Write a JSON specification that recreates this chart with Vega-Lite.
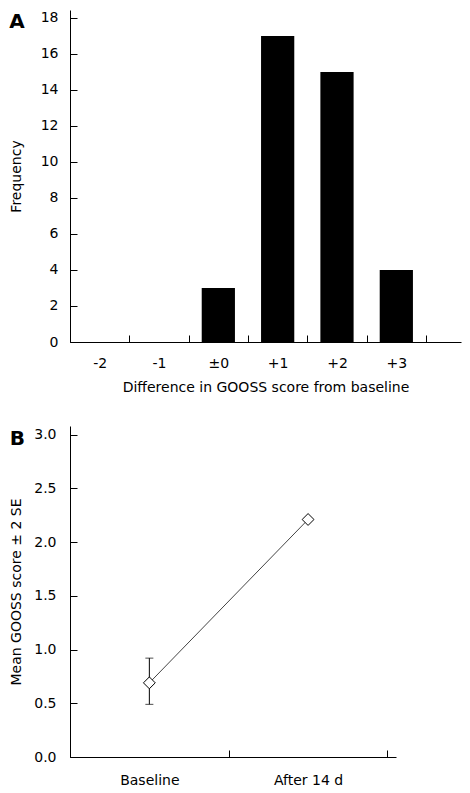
{
  "$schema": "https://vega.github.io/schema/vega-lite/v6.json",
  "padding": {"left": 9, "top": 10, "right": 5, "bottom": 5},
  "background": "white",
  "config": {
    "view": {"stroke": null},
    "axis": {
      "domainColor": "black", "tickColor": "black", "labelColor": "black", "titleColor": "black",
      "labelFont": "DejaVu Sans", "titleFont": "DejaVu Sans", "labelFontSize": 14, "titleFontSize": 14,
      "titleFontWeight": "normal", "grid": false, "tickSize": -7, "domainWidth": 1, "tickWidth": 1
    },
    "title": {"font": "DejaVu Sans", "fontSize": 20, "fontWeight": "bold", "color": "black", "anchor": "start", "frame": "bounds", "offset": 0}
  },
  "bounds": "flush",
  "spacing": 84,
  "vconcat": [
    {
      "title": {"text": "A", "dy": 26},
      "width": 391,
      "height": 332,
      "data": {"values": [
        {"diff": "-2", "freq": 0},
        {"diff": "-1", "freq": 0},
        {"diff": "±0", "freq": 3},
        {"diff": "+1", "freq": 17},
        {"diff": "+2", "freq": 15},
        {"diff": "+3", "freq": 4}
      ]},
      "mark": {"type": "bar", "color": "black", "width": {"band": 0.56}},
      "encoding": {
        "x": {"field": "diff", "type": "nominal", "sort": null,
          "scale": {"domain": ["-2", "-1", "±0", "+1", "+2", "+3"], "paddingInner": 0, "paddingOuter": 0.295, "align": 0},
          "axis": {"title": "Difference in GOOSS score from baseline", "labelAngle": 0, "tickBand": "extent", "labelPadding": 21, "titlePadding": 10}},
        "y": {"field": "freq", "type": "quantitative",
          "scale": {"domain": [0, 18.44], "nice": false},
          "axis": {"title": "Frequency", "values": [0, 2, 4, 6, 8, 10, 12, 14, 16, 18], "labelPadding": 19, "titlePadding": 17}}
      }
    },
    {
      "title": {"text": "B", "dy": 27},
      "width": 326,
      "height": 331,
      "data": {"values": [
        {"time": "Baseline", "mean": 0.69, "lo": 0.49, "hi": 0.92},
        {"time": "After 14 d", "mean": 2.21, "lo": null, "hi": null}
      ]},
      "encoding": {
        "x": {"field": "time", "type": "nominal", "sort": null,
          "scale": {"domain": ["Baseline", "After 14 d"], "paddingInner": 0, "paddingOuter": 0.027, "align": 0},
          "axis": {"title": null, "labelAngle": 0, "tickBand": "extent", "labelPadding": 23}}
      },
      "layer": [
        {
          "mark": {"type": "line", "color": "#444444", "strokeWidth": 1},
          "encoding": {"y": {"field": "mean", "type": "quantitative", "title": "Mean GOOSS score ± 2 SE",
            "scale": {"domain": [0, 3.08], "nice": false},
            "axis": {"values": [0, 0.5, 1, 1.5, 2, 2.5, 3], "format": ".1f", "labelPadding": 21, "titlePadding": 10}}}
        },
        {
          "transform": [{"filter": "datum.lo != null"}],
          "mark": {"type": "rule", "color": "black", "strokeWidth": 1},
          "encoding": {"y": {"field": "lo", "type": "quantitative", "title": "Mean GOOSS score ± 2 SE"}, "y2": {"field": "hi"}}
        },
        {
          "transform": [{"filter": "datum.lo != null"}],
          "mark": {"type": "tick", "color": "black", "size": 8, "thickness": 1, "orient": "horizontal"},
          "encoding": {"y": {"field": "lo", "type": "quantitative", "title": "Mean GOOSS score ± 2 SE"}}
        },
        {
          "transform": [{"filter": "datum.hi != null"}],
          "mark": {"type": "tick", "color": "black", "size": 8, "thickness": 1, "orient": "horizontal"},
          "encoding": {"y": {"field": "hi", "type": "quantitative", "title": "Mean GOOSS score ± 2 SE"}}
        },
        {
          "mark": {"type": "point", "shape": "diamond", "filled": true, "fill": "white", "stroke": "black", "strokeWidth": 1, "size": 140, "opacity": 1},
          "encoding": {"y": {"field": "mean", "type": "quantitative", "title": "Mean GOOSS score ± 2 SE"}}
        }
      ]
    }
  ]
}
